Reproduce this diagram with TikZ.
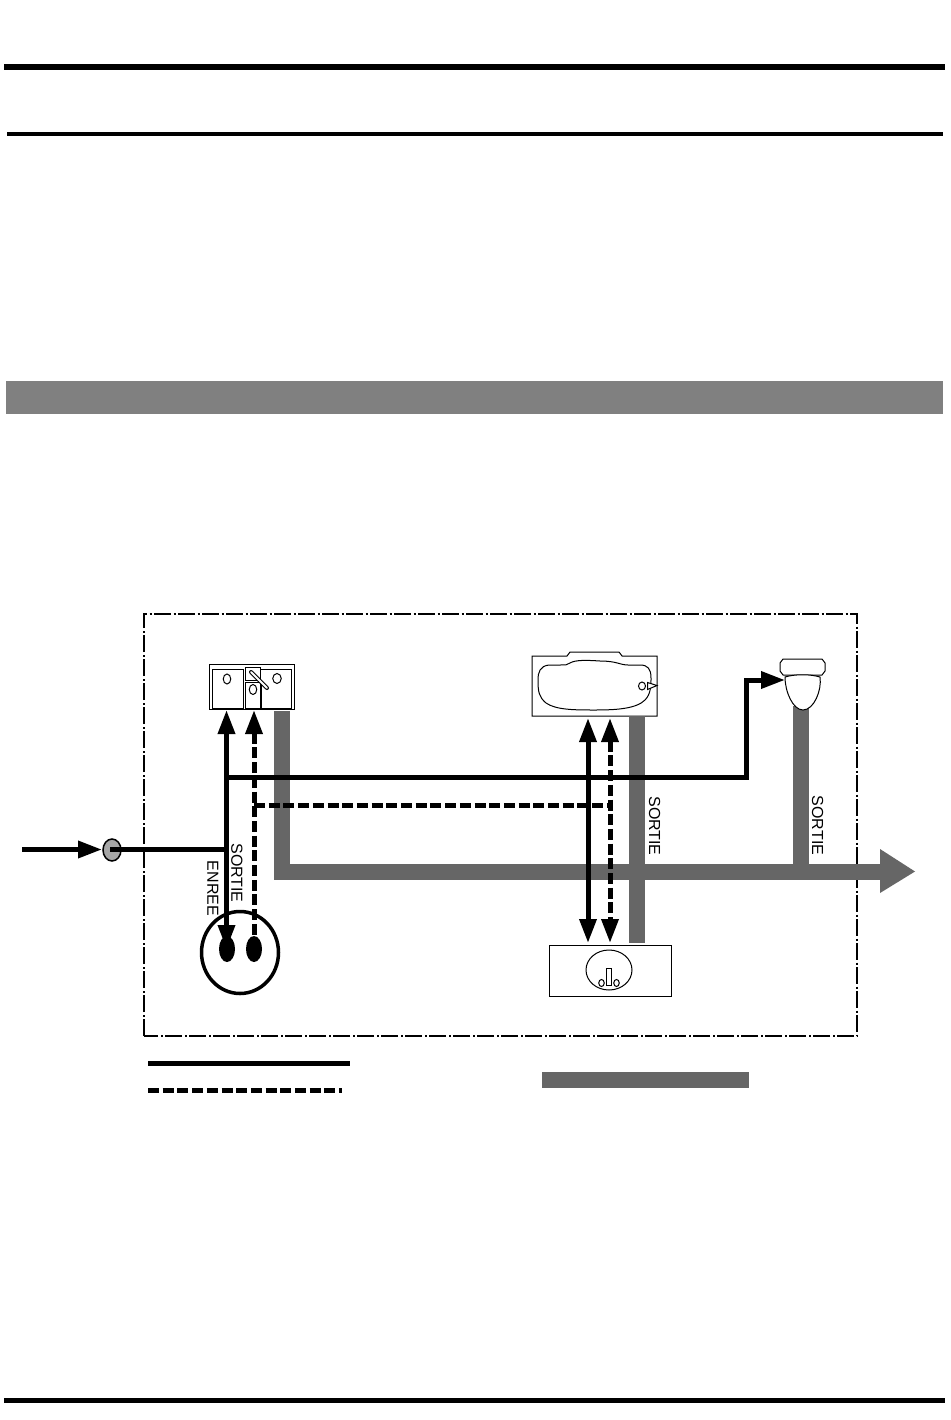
\documentclass[tikz,border=0pt]{standalone}
\usepackage{fontspec}
\setmainfont{Liberation Sans}
\usetikzlibrary{arrows.meta,shapes.geometric,calc}
\definecolor{drain}{HTML}{666666}
\definecolor{band}{HTML}{808080}
\definecolor{meter}{HTML}{A6A6A6}
\tikzset{
  x=1pt,y=-1pt,
  rulebar/.style={draw=black,line cap=butt},
  frameline/.style={draw=black,line width=1.6pt,dash pattern=on 17pt off 2.5pt on 2pt off 2.5pt},
  hotwire/.style={draw=black,line width=5pt,line cap=butt,line join=miter},
  coldwire/.style={hotwire,dash pattern=on 11pt off 3.7pt},
  drainpipe/.style={draw=drain,line width=16pt,line cap=butt,line join=miter},
  headtip/.style={-{Triangle[length=24pt,width=16.5pt]}},
  starttip/.style={{Triangle[length=24pt,width=16.5pt]}-},
  bothtips/.style={{Triangle[length=24pt,width=16.5pt]}-{Triangle[length=24pt,width=16.5pt]}},
  fixture/.style={draw=black,line width=1pt,fill=none,rectangle,inner sep=0pt,outer sep=0pt},
  hole/.style={draw=black,line width=1pt,ellipse,inner sep=0pt,outer sep=0pt,fill=white},
  lab/.style={rotate=-90,font=\fontsize{16pt}{16pt}\selectfont,inner sep=0pt,text=black},
}
\begin{document}
\begin{tikzpicture}
\useasboundingbox (0,0) rectangle (950,1420);
\fill[white] (0,0) rectangle (950,1420);
% page rules
\draw[rulebar,line width=6pt] (4,67) -- (945,67);
\draw[rulebar,line width=4pt] (7,134.5) -- (943,134.5);
\fill[band] (6,381) rectangle (943,414);
\draw[rulebar,line width=5pt] (4,1400) -- (945,1400);
% frame
\draw[frameline] (144,1036) -- (144,614) -- (857,614) -- (857,1036) -- cycle;

% sink
\node[fixture,minimum width=85pt,minimum height=45pt] (sink) at (251.5,686.5) {};
\node[fixture,minimum width=31pt,minimum height=39pt] (sinkL) at (227.5,688.5) {};
\node[fixture,minimum width=15.5pt,minimum height=13pt] (sinkT) at (252.8,673.5) {};
\node[fixture,minimum width=16pt,minimum height=26pt] (sinkM) at (253,695) {};
\node[fixture,minimum width=30.5pt,minimum height=39pt] (sinkR) at (276.2,688.5) {};
\node[hole,minimum width=7.5pt,minimum height=10pt] (sinkA) at (227,679) {};
\node[hole,minimum width=7.5pt,minimum height=10pt] (sinkB) at (253,689.5) {};
\node[hole,minimum width=8.5pt,minimum height=10pt] (sinkC) at (277,678.5) {};
\coordinate (fa) at (251,672);
\coordinate (fb) at (267,688);
\draw[black,line width=4pt,line cap=round] (fa) -- (fb);
\draw[white,line width=2pt,line cap=round] (fa) -- (fb);

% bath
\draw[black,line width=1pt] (532,656) -- (567,656) -- (570,652) -- (619,652) -- (622,656) -- (657,656) -- (657,716) -- (532,716) -- cycle;
\draw[black,line width=1pt] (549,665) .. controls (540,666) and (538,672) .. (538,680)
  .. controls (538,692) and (539,697) .. (546,703)
  .. controls (556,710) and (575,710) .. (595,710)
  .. controls (615,710) and (636,709) .. (645,700)
  .. controls (651,694) and (651,685) .. (651,678)
  .. controls (651,669) and (648,665) .. (640,665)
  -- (628,665) .. controls (620,665) and (617,661) .. (600,661)
  .. controls (585,660) and (575,660) .. (570,663)
  .. controls (568,665) and (565,665) .. (560,665) -- cycle;
\node[hole,minimum width=7pt,minimum height=8pt] (bathA) at (642,686) {};
\draw[black,line width=1pt,fill=white] (647.5,682.5) -- (657,685.5) -- (647.5,689.5) -- cycle;

% basin
\node[fixture,minimum width=122pt,minimum height=51pt] (basin) at (610,970.5) {};
\node[hole,fill=none,minimum width=46pt,minimum height=40pt] (bowl) at (609,970) {};
\node[fixture,minimum width=5.5pt,minimum height=17pt] (tap) at (609,976.5) {};
\node[hole,minimum width=5.5pt,minimum height=7pt] (basinA) at (601.5,983) {};
\node[hole,minimum width=5.5pt,minimum height=7pt] (basinB) at (616.5,983) {};

% WC
\draw[black,line width=1pt] (783,659) -- (822,659) -- (825,663) -- (825,671) -- (822,675) -- (783,675) -- (780,671) -- (780,663) -- cycle;
\draw[drainpipe] (801,706) -- (801,880);
\draw[black,line width=1pt,fill=white] (785,677) .. controls (795,674) and (810,674) .. (820,677)
  .. controls (822,690) and (814,710) .. (803,710)
  .. controls (793,710) and (785,692) .. (785,677) -- cycle;
\coordinate (wcin) at (785,680);

% shower
\node[draw=black,line width=3.5pt,ellipse,inner sep=0pt,outer sep=0pt,minimum width=77pt,minimum height=82pt] (shower) at (240,952.5) {};
\node[ellipse,fill=black,inner sep=0pt,outer sep=0pt,minimum width=16pt,minimum height=26pt] (showerH) at (227,949) {};
\node[ellipse,fill=black,inner sep=0pt,outer sep=0pt,minimum width=16pt,minimum height=26pt] (showerC) at (254,949) {};

% meter
\node[ellipse,draw=black,line width=1.5pt,fill=meter,inner sep=0pt,outer sep=0pt,minimum width=18pt,minimum height=22pt] (meterN) at (112,850) {};

% ports
\coordinate (in) at (22,849.5);
\coordinate (meterIn) at (102,849.5);
\coordinate (meterOut) at (110,849.5);
\coordinate (tee) at (229,849.5);
\coordinate (sinkHot) at (226.5,710);
\coordinate (showerHot) at (226.5,949);
\coordinate (sinkCold) at (254,710);
\coordinate (showerCold) at (254,945);
\coordinate (hTop) at (226.5,777.5);
\coordinate (wcCorner) at (746,777.5);
\coordinate (wcUp) at (746,680);
\coordinate (bathHot) at (588,718);
\coordinate (basinHot) at (588,943);
\coordinate (bathCold) at (610,718);
\coordinate (basinCold) at (610,943);
\coordinate (cLeft) at (254,805.5);
\coordinate (cRight) at (610,805.5);

% drains
\draw[drainpipe] (282,711) -- (282,872) -- (881,872);
\draw[drainpipe] (637,716) -- (637,943);
\fill[drain] (880,849) -- (915,871.5) -- (880,893) -- cycle;

% hot water
\draw[hotwire,headtip] (in) -- (meterIn);
\draw[hotwire] (meterOut) -- (tee);
\draw[hotwire,bothtips] (sinkHot) -- (showerHot);
\draw[hotwire] (hTop) -- (wcCorner) -- (wcUp) -- (760,680);
\draw[hotwire,headtip] (wcUp) -- (wcin);
\draw[hotwire,bothtips] (bathHot) -- (basinHot);
% cold water
\draw[coldwire,starttip] (sinkCold) -- (showerCold);
\draw[coldwire] (cLeft) -- (cRight);
\draw[coldwire,bothtips] (bathCold) -- (basinCold);

% labels
\node[lab] (enree) at (213,888.5) {ENREE};
\node[lab] (sortieA) at (237,873) {SORTIE};
\node[lab] (sortieB) at (654.5,826) {SORTIE};
\node[lab] (sortieC) at (817.5,825.5) {SORTIE};

% legend
\draw[hotwire] (148,1063) -- (350,1063);
\draw[coldwire] (148,1090) -- (342,1090);
\fill[drain] (542,1072) rectangle (749,1088);
\end{tikzpicture}
\end{document}
